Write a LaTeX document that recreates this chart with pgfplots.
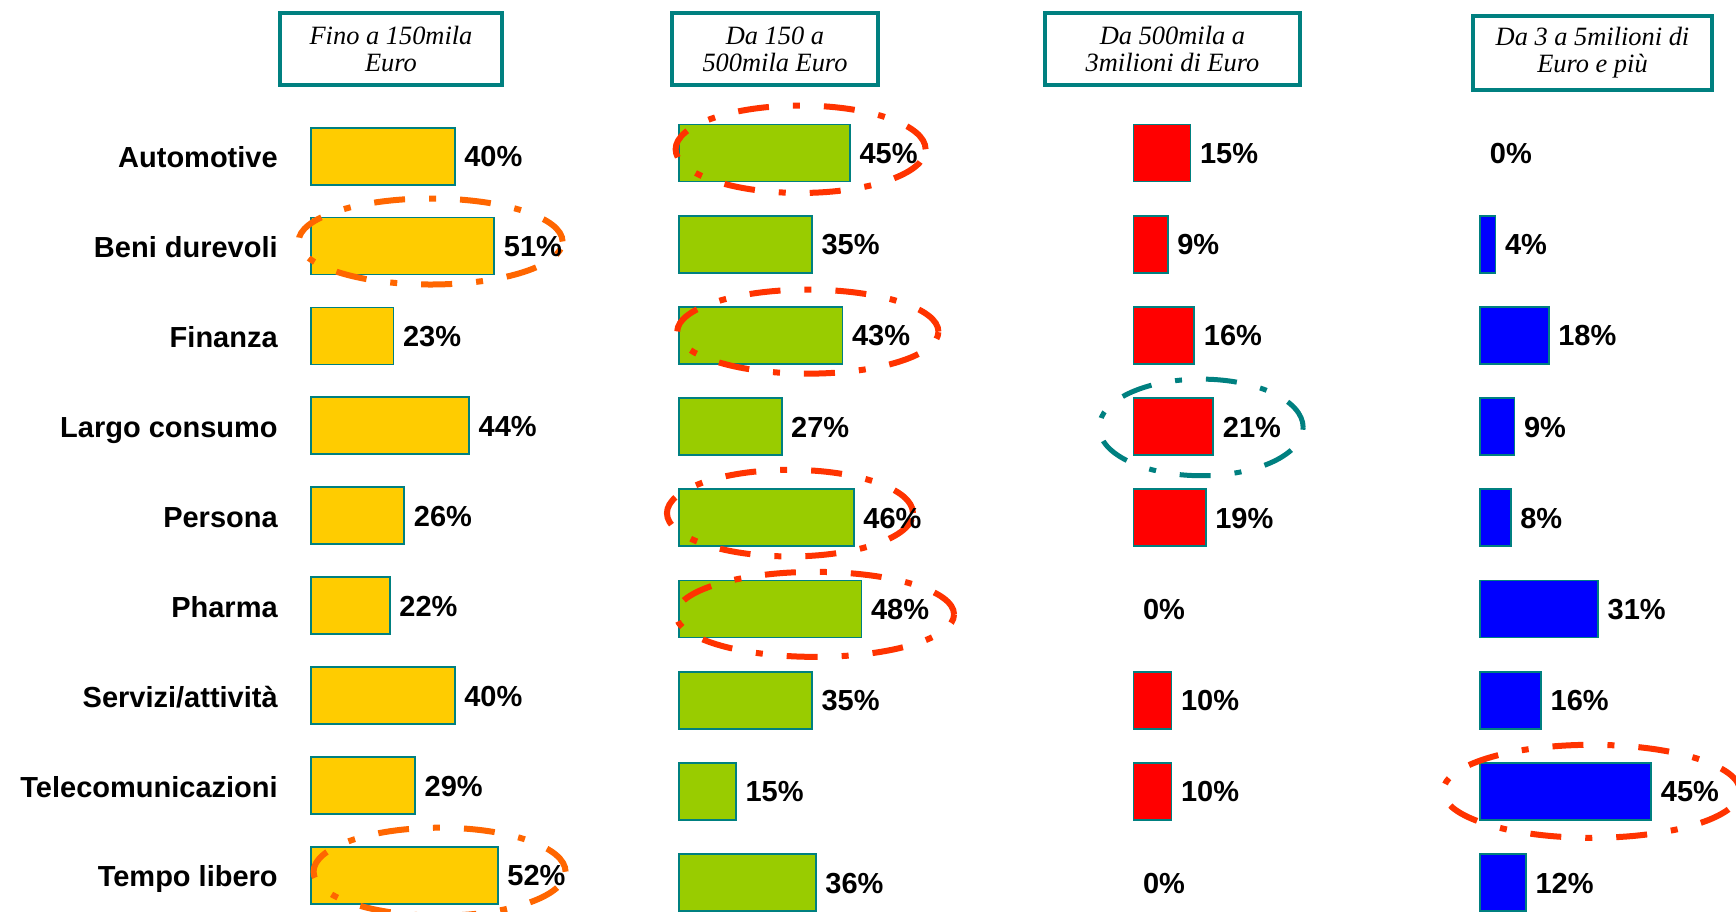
\documentclass[border=0pt]{standalone}
\usepackage{pgfplots}
\pgfplotsset{compat=1.18}
\usepackage{pgfplotstable}
\usepackage{fontspec}
\setmainfont{Liberation Sans}
\newfontfamily\hdrfont{Liberation Serif}
\definecolor{barYellow}{HTML}{FFCC00}
\definecolor{barGreen}{HTML}{99CC00}
\definecolor{barRed}{HTML}{FF0000}
\definecolor{barBlue}{HTML}{0000FF}
\definecolor{barTeal}{HTML}{008080}
\definecolor{hlOrange}{HTML}{FF6600}
\definecolor{hlRed}{HTML}{FF3300}

\pgfplotstableread{
row val
8 40
7 51
6 23
5 44
4 26
3 22
2 40
1 29
0 52
}\dataA
\pgfplotstableread{
row val
8 45
7 35
6 43
5 27
4 46
3 48
2 35
1 15
0 36
}\dataB
\pgfplotstableread{
row val
8 15
7 9
6 16
5 21
4 19
3 0
2 10
1 10
0 0
}\dataC
\pgfplotstableread{
row val
8 0
7 4
6 18
5 9
4 8
3 31
2 16
1 45
0 12
}\dataD

\pgfplotsset{
  panel/.style={
    xbar, bar shift=0pt, bar width=28.5pt,
    xmin=0, xmax=60, ymin=0, ymax=8, enlargelimits=false,
    clip=false, anchor=south west,
    axis line style={draw=none}, major tick length=0pt, tick style={draw=none},
    xtick=\empty, ytick=\empty,
  },
  bars/.style={bar shift=0pt, draw=barTeal, line width=0.9pt, fill=#1, restrict x to domain=0.5:100},
  labs/.style={bar shift=0pt, draw=none, fill=none, point meta=x,
    nodes near coords={\pgfmathprintnumber[assume math mode=true]{\pgfplotspointmeta}\%},
    every node near coord/.append style={anchor=base west, inner sep=0pt, xshift=4.6pt, yshift=-5.3pt,
      font=\fontsize{14.5}{16}\selectfont\bfseries, text=black}},
}
\tikzset{hl/.style={line width=3pt, dash pattern=on 15.5pt off 12pt on 3.5pt off 12pt}}

\begin{document}
\begin{tikzpicture}
\useasboundingbox (0,0) rectangle (868pt,455.5pt);
\clip (0,0) rectangle (868pt,455.5pt);

% header boxes
\tikzset{hdr/.style={font=\hdrfont\itshape\fontsize{13.2}{13.5}\selectfont, align=center, inner sep=0pt}}
\draw[barTeal, line width=2pt] (140pt,413pt) rectangle (251pt,449pt);
\node[hdr] at (195.5pt,431pt) {Fino a 150mila\\Euro};
\draw[barTeal, line width=2pt] (336pt,413pt) rectangle (439pt,449pt);
\node[hdr] at (387.5pt,431pt) {Da 150 a\\500mila Euro};
\draw[barTeal, line width=2pt] (522.5pt,413pt) rectangle (650pt,449pt);
\node[hdr] at (586.25pt,431pt) {Da 500mila a\\3milioni di Euro};
\draw[barTeal, line width=2pt] (736.5pt,410.5pt) rectangle (856pt,447.5pt);
\node[hdr] at (796.25pt,429pt) {Da 3 a 5milioni di\\Euro e più};

% panel 1
\begin{axis}[panel, at={(155.35pt,17.85pt)}, x=1.8pt, y=44.95pt,
  ytick={0,1,2,3,4,5,6,7,8},
  yticklabels={Tempo libero,Telecomunicazioni,Servizi/attività,Pharma,Persona,Largo consumo,Finanza,Beni durevoli,Automotive},
  yticklabel style={anchor=base east, inner sep=0pt, xshift=-16.3pt, yshift=-5.8pt, font=\fontsize{14.5}{16}\selectfont\bfseries}]
\addplot[bars=barYellow] table[x=val,y=row]{\dataA};
\addplot[labs] table[x=val,y=row]{\dataA};
\draw[hl, hlOrange] (axis cs:33.3,7.05) ellipse [x radius=66pt, y radius=21.5pt];
\draw[hl, hlOrange] (axis cs:35.8,0.04) ellipse [x radius=63pt, y radius=22pt];
\end{axis}

% panel 2
\begin{axis}[panel, at={(339.5pt,14.25pt)}, x=1.9pt, y=45.6pt]
\addplot[bars=barGreen] table[x=val,y=row]{\dataB};
\addplot[labs] table[x=val,y=row]{\dataB};
\draw[hl, hlRed] (axis cs:32.0,8.04) ellipse [x radius=62.5pt, y radius=21.85pt];
\draw[hl, hlRed] (axis cs:33.9,6.04) ellipse [x radius=65.3pt, y radius=21pt];
\draw[hl, hlRed] (axis cs:29.2,4.05) ellipse [x radius=61.5pt, y radius=21.65pt];
\draw[hl, hlRed] (axis cs:35.8,2.94) ellipse [x radius=69.5pt, y radius=21.25pt];
\end{axis}

% panel 3
\begin{axis}[panel, at={(566.75pt,14.25pt)}, x=1.9pt, y=45.6pt]
\addplot[bars=barRed] table[x=val,y=row]{\dataC};
\addplot[labs] table[x=val,y=row]{\dataC};
\draw[hl, barTeal, line width=2.5pt] (axis cs:17.8,4.99) ellipse [x radius=51pt, y radius=24.15pt];
\end{axis}

% panel 4
\begin{axis}[panel, at={(740.15pt,14.25pt)}, x=1.9pt, y=45.6pt]
\addplot[bars=barBlue] table[x=val,y=row]{\dataD};
\addplot[labs] table[x=val,y=row]{\dataD};
\draw[hl, hlRed] (axis cs:29.3,1.0) ellipse [x radius=74.25pt, y radius=23.25pt];
\end{axis}
\end{tikzpicture}
\end{document}
